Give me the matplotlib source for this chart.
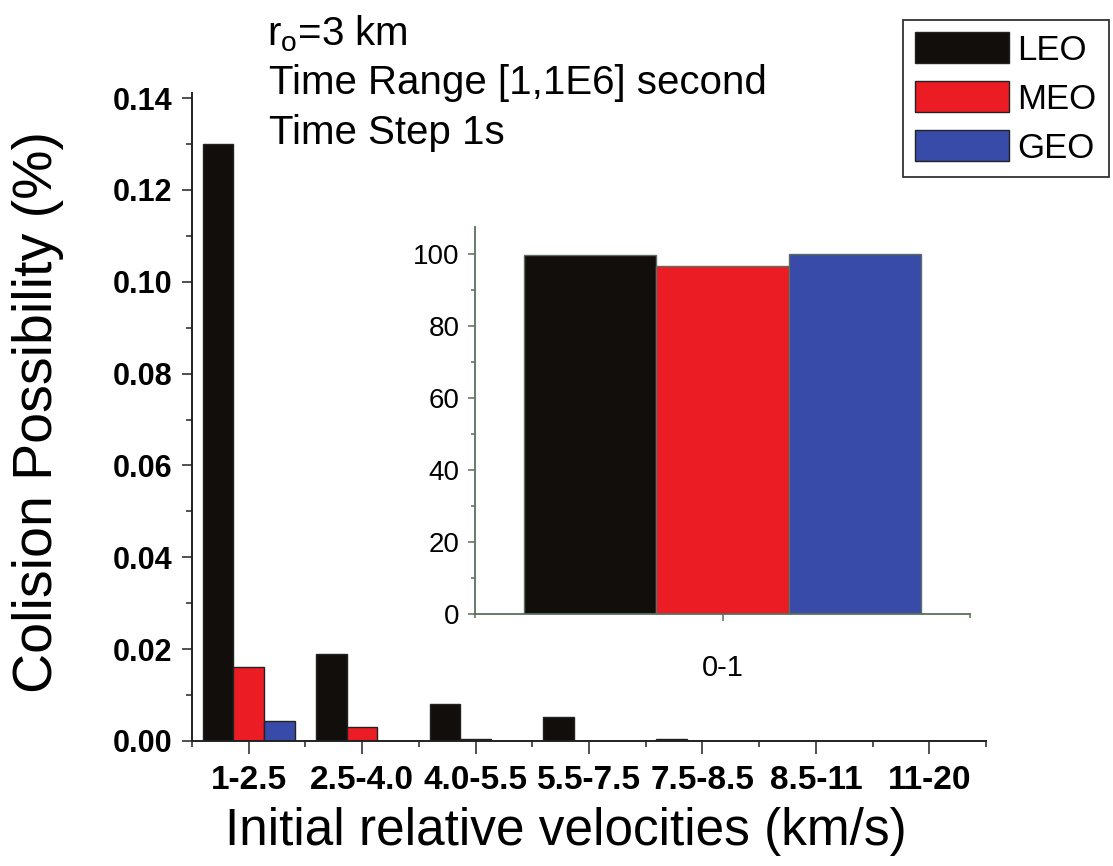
import matplotlib
matplotlib.use("Agg")
import matplotlib.pyplot as plt
import numpy as np
from matplotlib.ticker import MultipleLocator, FixedLocator, FormatStrFormatter

plt.rcParams['font.family'] = ['Liberation Sans', 'DejaVu Sans']

# data
categories = ['1-2.5', '2.5-4.0', '4.0-5.5', '5.5-7.5', '7.5-8.5', '8.5-11', '11-20']
leo = [0.130, 0.0189, 0.0081, 0.0052, 0.0004, 0.0, 0.0]
meo = [0.0161, 0.0030, 0.0004, 0.0, 0.0, 0.0, 0.0]
geo = [0.0044, 0.0, 0.0, 0.0, 0.0, 0.0, 0.0]

inset_cat = ['0-1']
inset_leo = [99.6]
inset_meo = [96.8]
inset_geo = [99.9]

series = ['LEO', 'MEO', 'GEO']
colors = ['#110e0c', '#ec1c24', '#394ba8']

fig = plt.figure(figsize=(11.13, 8.66), dpi=100)

# main axes
ax = fig.add_axes([192 / 1113, 125 / 866, 794 / 1113, 648 / 866])
x = np.arange(len(categories))
w = 0.27
bars = []
for i, (vals, c, name) in enumerate(zip([leo, meo, geo], colors, series)):
    b = ax.bar(x + (i - 1) * w, vals, w, color=c, edgecolor='#222222',
               linewidth=1.0, label=name)
    bars.append(b)

ax.set_xlim(-0.5, len(categories) - 0.5)
ax.set_ylim(0, 0.1411)
ax.set_xticks(x)
ax.set_xticklabels(categories, fontsize=24, fontweight='bold')
ax.xaxis.set_minor_locator(FixedLocator(np.arange(-0.5, len(categories), 1.0)))
ax.yaxis.set_major_locator(MultipleLocator(0.02))
ax.yaxis.set_minor_locator(MultipleLocator(0.01))
ax.yaxis.set_major_formatter(FormatStrFormatter('%.2f'))
ax.tick_params(axis='y', which='major', labelsize=22, length=7, width=1.2,
               pad=7, color='#333333')
ax.tick_params(axis='y', which='minor', length=4, width=1.2, color='#333333')
ax.tick_params(axis='x', which='major', length=9, width=1.2, pad=8,
               color='#333333')
ax.tick_params(axis='x', which='minor', length=4.5, width=1.2, color='#333333')
for lab in ax.get_yticklabels():
    lab.set_fontweight('bold')
ax.spines['top'].set_visible(False)
ax.spines['right'].set_visible(False)
for s in ['left', 'bottom']:
    ax.spines[s].set_linewidth(1.4)
    ax.spines[s].set_color('#222222')
ax.set_ylabel('Colision Possibility (%)', fontsize=40)
ax.set_xlabel('Initial relative velocities (km/s)', fontsize=37)
ax.yaxis.set_label_coords(-128 / 794, 0.508)
ax.xaxis.set_label_coords((566 - 192) / 794, -66 / 648)

# inset
axin = fig.add_axes([475 / 1113, 252 / 866, 495 / 1113, 387 / 866])
axin.patch.set_alpha(0)
xi = np.arange(len(inset_cat))
for i, (vals, c) in enumerate(zip([inset_leo, inset_meo, inset_geo], colors)):
    axin.bar(xi + (i - 1) * 0.267, vals, 0.267, color=c, edgecolor='#5f6d60',
             linewidth=1.0)
axin.set_xlim(-0.5, 0.5)
axin.set_ylim(0, 107.5)
axin.set_xticks(xi)
axin.set_xticklabels(inset_cat, fontsize=21)
axin.xaxis.set_minor_locator(FixedLocator([-0.5, 0.5]))
axin.yaxis.set_major_locator(MultipleLocator(20))
axin.yaxis.set_minor_locator(MultipleLocator(10))
axc = '#5b6e5c'
axin.tick_params(axis='y', which='major', labelsize=20, length=5, width=1.1,
                 pad=6, color=axc)
axin.tick_params(axis='y', which='minor', length=3, width=1.1, color=axc)
axin.tick_params(axis='x', which='major', length=5, width=1.1, pad=24, color=axc)
axin.tick_params(axis='x', which='minor', length=3, width=1.1, color=axc)
axin.spines['top'].set_visible(False)
axin.spines['right'].set_visible(False)
for s in ['left', 'bottom']:
    axin.spines[s].set_linewidth(1.3)
    axin.spines[s].set_color(axc)

# annotation text
fig.text(267 / 1113, 1 - 45 / 866, r'r$_{\mathregular{o}}$=3 km', fontsize=29,
         va='baseline', ha='left')
fig.text(269 / 1113, 1 - 94 / 866, 'Time Range [1,1E6] second', fontsize=29,
         va='baseline', ha='left')
fig.text(269 / 1113, 1 - 144 / 866, 'Time Step 1s', fontsize=29,
         va='baseline', ha='left')

# legend
leg = fig.legend(handles=bars, labels=series, loc='upper left',
                 bbox_to_anchor=(903 / 1113, 1 - 20 / 866), fontsize=25,
                 handlelength=2.7, handleheight=1.0, handletextpad=0.25,
                 labelspacing=0.42, borderpad=0.35, borderaxespad=0,
                 fancybox=False, framealpha=1)
leg.get_frame().set_edgecolor('#333333')
leg.get_frame().set_linewidth(1.3)

fig.savefig('out.png', dpi=100)
